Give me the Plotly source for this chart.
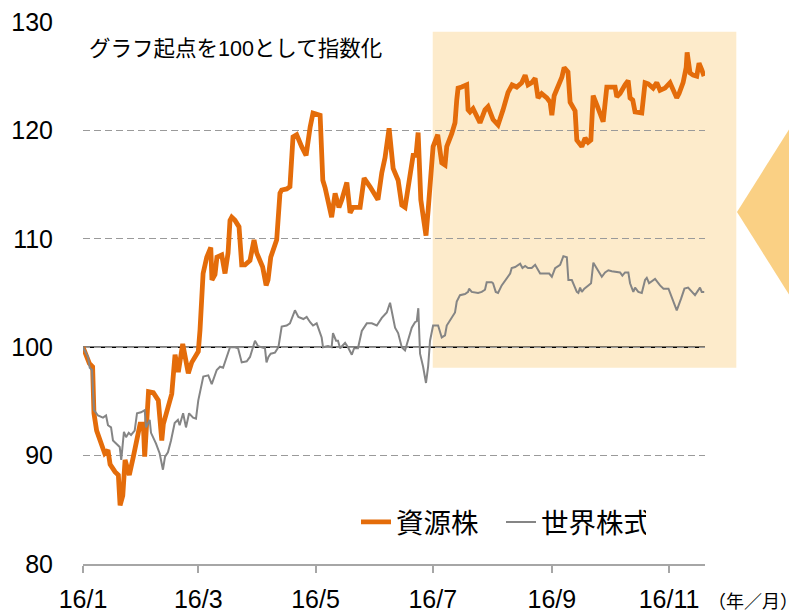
import plotly.graph_objects as go

# ---------------- data ----------------
# x = days since 2016-01-01
resource_days = [0.0, 3.3, 5.0, 5.7, 7.1, 11.3, 13.0, 14.1, 16.7, 18.4, 19.3, 20.7, 21.9, 24.1, 26.2, 28.0,
                 29.7, 31.4, 32.1, 34.1, 36.6, 39.2, 41.0, 41.8, 44.4, 46.2, 47.9, 49.6, 51.9, 53.1, 54.8,
                 56.6, 60.0, 60.9, 62.5, 64.4, 66.5, 67.1, 68.7, 69.7, 72.2, 73.9, 75.5, 76.5, 77.4, 79.1,
                 81.2, 82.6, 84.3, 86.9, 89.0, 90.4, 92.1, 93.5, 95.3, 96.3, 97.7, 100.8, 102.5, 103.4, 106.0,
                 107.7, 109.3, 111.2, 113.8, 116.1, 118.2, 119.7, 123.4, 124.8, 126.0, 127.5, 129.4, 131.2,
                 133.2, 134.7, 137.3, 139.0, 140.5, 144.2, 146.3, 149.4, 152.0, 153.5, 155.5, 157.2, 159.3,
                 161.4, 164.0, 165.9, 167.6, 170.2, 171.8, 173.3, 174.4, 175.8, 177.0, 178.5, 179.6, 180.6,
                 182.2, 184.6, 186.7, 188.4, 189.3, 191.9, 193.6, 194.5, 195.2, 197.1, 199.7, 200.4, 201.4,
                 203.0, 206.6, 209.2, 210.8, 213.4, 216.0, 218.6, 221.2, 223.3, 225.7, 228.3, 230.1, 231.6,
                 233.5, 235.3, 236.8, 238.7, 241.4, 243.1, 244.0, 245.2, 247.2, 249.2, 250.4, 252.4, 253.5,
                 255.0, 256.1, 257.0, 258.7, 259.6, 261.3, 262.9, 264.3, 265.5, 267.5, 269.5, 270.7, 272.6,
                 275.2, 276.9, 277.8, 279.5, 282.1, 283.7, 284.7, 286.1, 287.3, 288.9, 290.8, 292.5, 294.1,
                 296.7, 298.6, 300.3, 302.9, 305.5, 307.1, 309.0, 310.2, 312.3, 313.9, 314.4, 315.9, 317.5,
                 319.4, 320.6, 322.0, 323.2]
resource_values = [100.0, 98.5, 98.2, 93.9, 92.3, 90.2, 90.5, 89.2, 88.5, 88.2, 85.4, 86.3, 89.6, 88.2, 89.9,
                   91.7, 92.9, 92.9, 89.9, 95.9, 95.8, 95.1, 91.4, 92.9, 94.5, 95.7, 99.3, 97.7, 100.3, 99.2,
                   97.6, 98.6, 99.6, 101.6, 106.8, 108.3, 109.2, 106.2, 106.7, 108.3, 108.5, 106.8, 108.7,
                   111.7, 112.0, 111.7, 111.1, 107.6, 107.6, 108.0, 109.9, 108.7, 108.0, 107.4, 105.7, 106.2,
                   108.3, 109.9, 114.2, 114.5, 114.6, 114.8, 119.4, 119.6, 118.5, 117.7, 120.3, 121.6, 121.4,
                   115.4, 114.7, 113.6, 112.0, 114.2, 112.9, 113.6, 115.2, 112.4, 112.9, 112.9, 115.6, 114.8,
                   114.0, 113.6, 116.1, 117.5, 120.2, 116.5, 115.4, 113.1, 112.9, 116.1, 117.7, 117.7, 119.8,
                   113.6, 112.0, 110.3, 112.6, 115.4, 118.5, 119.6, 117.0, 116.8, 118.5, 119.7, 120.7, 122.8,
                   123.9, 124.0, 124.2, 121.9, 121.7, 122.0, 120.7, 121.9, 122.2, 121.0, 120.5, 121.9, 123.5,
                   124.2, 124.0, 124.4, 125.1, 124.2, 124.4, 124.8, 123.0, 123.4, 123.0, 122.6, 121.4, 123.2,
                   124.0, 124.9, 125.8, 125.4, 122.6, 122.1, 121.8, 119.1, 118.8, 118.5, 119.3, 118.9, 119.1,
                   123.2, 122.3, 121.4, 120.8, 124.0, 124.0, 124.0, 123.1, 123.4, 124.2, 124.6, 123.0, 122.8,
                   121.7, 121.7, 121.6, 124.4, 124.3, 123.9, 124.4, 123.7, 123.9, 124.4, 123.7, 123.0, 123.4,
                   124.4, 125.8, 127.2, 125.3, 125.1, 125.0, 126.2, 125.6, 125.0]

world_days = [0.0, 2.6, 3.5, 4.7, 5.7, 7.8, 10.4, 12.0, 13.0, 14.6, 15.6, 17.2, 19.1, 19.9, 21.3, 22.4, 23.8,
              25.0, 26.9, 28.1, 30.2, 32.1, 32.8, 34.7, 35.4, 38.0, 39.9, 41.6, 42.7, 44.2, 45.8, 47.7, 49.4,
              50.3, 52.1, 53.6, 55.2, 57.3, 58.8, 60.0, 62.6, 65.2, 67.0, 69.6, 71.3, 72.9, 74.8, 76.5, 79.1,
              80.7, 82.6, 85.2, 86.9, 89.5, 91.1, 94.7, 95.5, 96.5, 97.7, 99.9, 101.7, 103.4, 106.0, 107.7,
              110.3, 112.1, 114.7, 116.4, 118.2, 119.7, 121.6, 123.1, 124.2, 124.9, 127.5, 129.4, 130.1,
              131.7, 132.7, 133.8, 136.4, 137.9, 139.9, 141.1, 143.1, 145.1, 147.7, 150.3, 152.9, 155.5,
              158.1, 159.8, 162.4, 164.0, 165.9, 167.6, 169.2, 171.1, 172.8, 173.7, 174.5, 175.4, 177.0,
              178.5, 179.6, 180.6, 182.2, 184.8, 186.7, 188.4, 189.3, 191.9, 193.6, 194.5, 196.2, 198.8,
              200.4, 200.9, 202.3, 205.6, 207.5, 209.2, 210.1, 212.7, 213.4, 214.8, 216.0, 217.9, 220.5,
              222.3, 223.1, 224.9, 227.5, 228.7, 230.1, 231.6, 233.5, 235.3, 237.9, 240.5, 242.6, 244.0,
              245.7, 248.3, 250.0, 251.8, 252.6, 254.4, 257.0, 257.8, 258.7, 259.6, 260.9, 263.0, 264.4,
              265.6, 267.4, 270.0, 271.7, 273.4, 275.2, 277.8, 279.5, 280.7, 282.1, 283.8, 284.7, 286.4,
              287.3, 289.0, 290.8, 292.5, 293.4, 294.6, 297.7, 300.3, 302.1, 304.7, 306.1, 307.8, 309.0,
              311.3, 313.0, 314.9, 316.8, 318.5, 321.1, 322.0, 323.3]
world_values = [100.0, 99.1, 98.1, 97.9, 94.2, 93.7, 93.5, 93.7, 92.8, 92.6, 91.4, 91.1, 90.8, 89.6, 92.2,
                91.7, 92.1, 91.9, 92.3, 93.9, 94.0, 94.2, 92.6, 93.3, 92.1, 91.1, 90.2, 88.7, 89.9, 90.3, 91.4,
                93.0, 93.3, 92.8, 93.9, 92.6, 93.9, 93.5, 93.4, 95.1, 97.3, 97.4, 96.6, 97.9, 98.2, 98.1, 99.0,
                100.0, 100.0, 99.9, 98.6, 98.7, 99.1, 100.6, 100.1, 99.9, 98.6, 99.1, 99.4, 99.5, 100.0, 101.9,
                102.0, 102.2, 103.4, 102.8, 102.6, 102.8, 102.3, 102.0, 102.2, 101.5, 100.9, 100.0, 100.1,
                100.0, 101.3, 100.6, 100.6, 99.9, 100.4, 100.0, 99.3, 99.9, 99.9, 101.5, 102.2, 102.2, 102.0,
                102.7, 103.2, 104.1, 101.8, 101.3, 100.0, 99.7, 100.6, 101.8, 102.3, 102.4, 103.6, 99.4, 98.2,
                96.7, 98.2, 100.6, 102.0, 102.0, 100.9, 101.1, 102.0, 102.8, 103.2, 104.2, 104.8, 104.9,
                105.1, 105.4, 105.1, 105.0, 105.1, 105.3, 106.0, 106.0, 105.9, 105.1, 105.0, 105.7, 106.4,
                106.8, 107.3, 107.4, 107.7, 107.3, 107.5, 107.3, 107.3, 107.6, 106.8, 106.8, 106.8, 106.5,
                107.3, 107.6, 108.4, 108.3, 106.2, 106.2, 105.1, 105.0, 105.5, 105.1, 105.4, 105.7, 105.9,
                107.8, 107.3, 106.5, 106.9, 107.1, 107.0, 106.9, 106.9, 106.6, 106.9, 106.9, 105.9, 105.1,
                105.5, 105.1, 105.0, 106.2, 106.4, 105.9, 106.3, 105.7, 105.4, 105.4, 104.8, 103.9, 103.4,
                104.5, 105.4, 105.5, 105.1, 104.8, 105.5, 105.1, 105.1]

tick_days = [0, 60, 121, 182, 244, 305]
tick_labels = ["16/1", "16/3", "16/5", "16/7", "16/9", "16/11"]
y_ticks = [80, 90, 100, 110, 120, 130]
series_names = ["資源株", "世界株式"]

# highlighted period (day range and value range)
highlight_start_day = 182
highlight_end_day = 340
highlight_low = 98.1
highlight_high = 129.1

# ---------------- layout geometry ----------------
OFF = 8                      # page body margin of the html page
W, H = 797 - OFF, 613 - OFF
ML, MT = 83 - OFF, 22 - OFF
PW, PH = 622, 542
MR, MB = W - ML - PW, H - MT - PH
X_RANGE = [0, 323.7]
Y_RANGE = [80, 130]

FONT = "Arial, 'Liberation Sans', 'Noto Sans CJK JP', sans-serif"
ORANGE = "#E46C0A"
GRAY = "#858585"

def to_paper_x(d):
    return (d - X_RANGE[0]) / (X_RANGE[1] - X_RANGE[0])

def to_paper_y(v):
    return (v - Y_RANGE[0]) / (Y_RANGE[1] - Y_RANGE[0])

def px_to_paper(px, py):
    # window pixel -> paper coordinates
    return (px - OFF - ML) / PW, (H - MB - (py - OFF)) / PH

fig = go.Figure()
fig.add_trace(go.Scatter(x=resource_days, y=resource_values, mode="lines", name=series_names[0],
                         line=dict(color=ORANGE, width=4.8)))
fig.add_trace(go.Scatter(x=world_days, y=world_values, mode="lines", name=series_names[1],
                         line=dict(color=GRAY, width=2)))

# highlight rectangle
fig.add_shape(type="rect", xref="paper", yref="paper",
              x0=to_paper_x(highlight_start_day), x1=to_paper_x(highlight_end_day),
              y0=to_paper_y(highlight_low), y1=to_paper_y(highlight_high),
              fillcolor="#FDEBCB", line=dict(width=0), layer="below")

# arrow (triangle pointing left) on the right edge
tri = [px_to_paper(737, 212), px_to_paper(860, 17), px_to_paper(860, 407)]
path = "M {} {} L {} {} L {} {} Z".format(tri[0][0], tri[0][1], tri[1][0], tri[1][1], tri[2][0], tri[2][1])
fig.add_shape(type="path", xref="paper", yref="paper", path=path,
              fillcolor="#FAD084", line=dict(width=0), layer="below")

# baseline 100
fig.add_shape(type="line", xref="paper", yref="y", x0=0, x1=1, y0=100, y1=100,
              line=dict(color="black", width=1.5), layer="below")

fig.add_annotation(text="グラフ起点を100として指数化", xref="paper", yref="paper",
                   x=px_to_paper(87, 0)[0], y=px_to_paper(0, 49)[1], xanchor="left", yanchor="middle",
                   showarrow=False, font=dict(size=21.5, color="black", family=FONT))
fig.add_annotation(text="（年／月）", xref="paper", yref="paper",
                   x=px_to_paper(800, 0)[0], y=px_to_paper(0, 602)[1], xanchor="right", yanchor="middle",
                   showarrow=False, font=dict(size=18, color="black", family=FONT))

fig.update_layout(
    width=W, height=H,
    margin=dict(l=ML, r=MR, t=MT, b=MB, autoexpand=False),
    paper_bgcolor="white", plot_bgcolor="rgba(0,0,0,0)",
    font=dict(family=FONT, color="black"),
    showlegend=True,
    legend=dict(orientation="h", x=px_to_paper(356, 0)[0], y=px_to_paper(0, 522)[1],
                xanchor="left", yanchor="middle", bgcolor="rgba(0,0,0,0)",
                font=dict(size=27.5, family=FONT, color="black"), itemwidth=30,
                entrywidth=100, entrywidthmode="pixels"),
    xaxis=dict(range=X_RANGE, tickmode="array", tickvals=tick_days, ticktext=tick_labels,
               showgrid=False, zeroline=False, showline=True, linecolor="#A6A6A6", linewidth=1.5,
               ticks="outside", ticklen=7, tickcolor="#A6A6A6", tickwidth=1.5, ticklabeloverflow="allow",
               tickfont=dict(size=25, family=FONT, color="black"), ticklabelstandoff=5),
    yaxis=dict(range=Y_RANGE, tickmode="array", tickvals=y_ticks, showgrid=True,
               gridcolor="#9A9A9A", gridwidth=1.3, griddash="7px,4px", zeroline=False, showline=False,
               ticks="", tickfont=dict(size=25, family=FONT, color="black"), ticklabelstandoff=29,
               ticklabeloverflow="allow"),
)

fig.write_html("out.html")
